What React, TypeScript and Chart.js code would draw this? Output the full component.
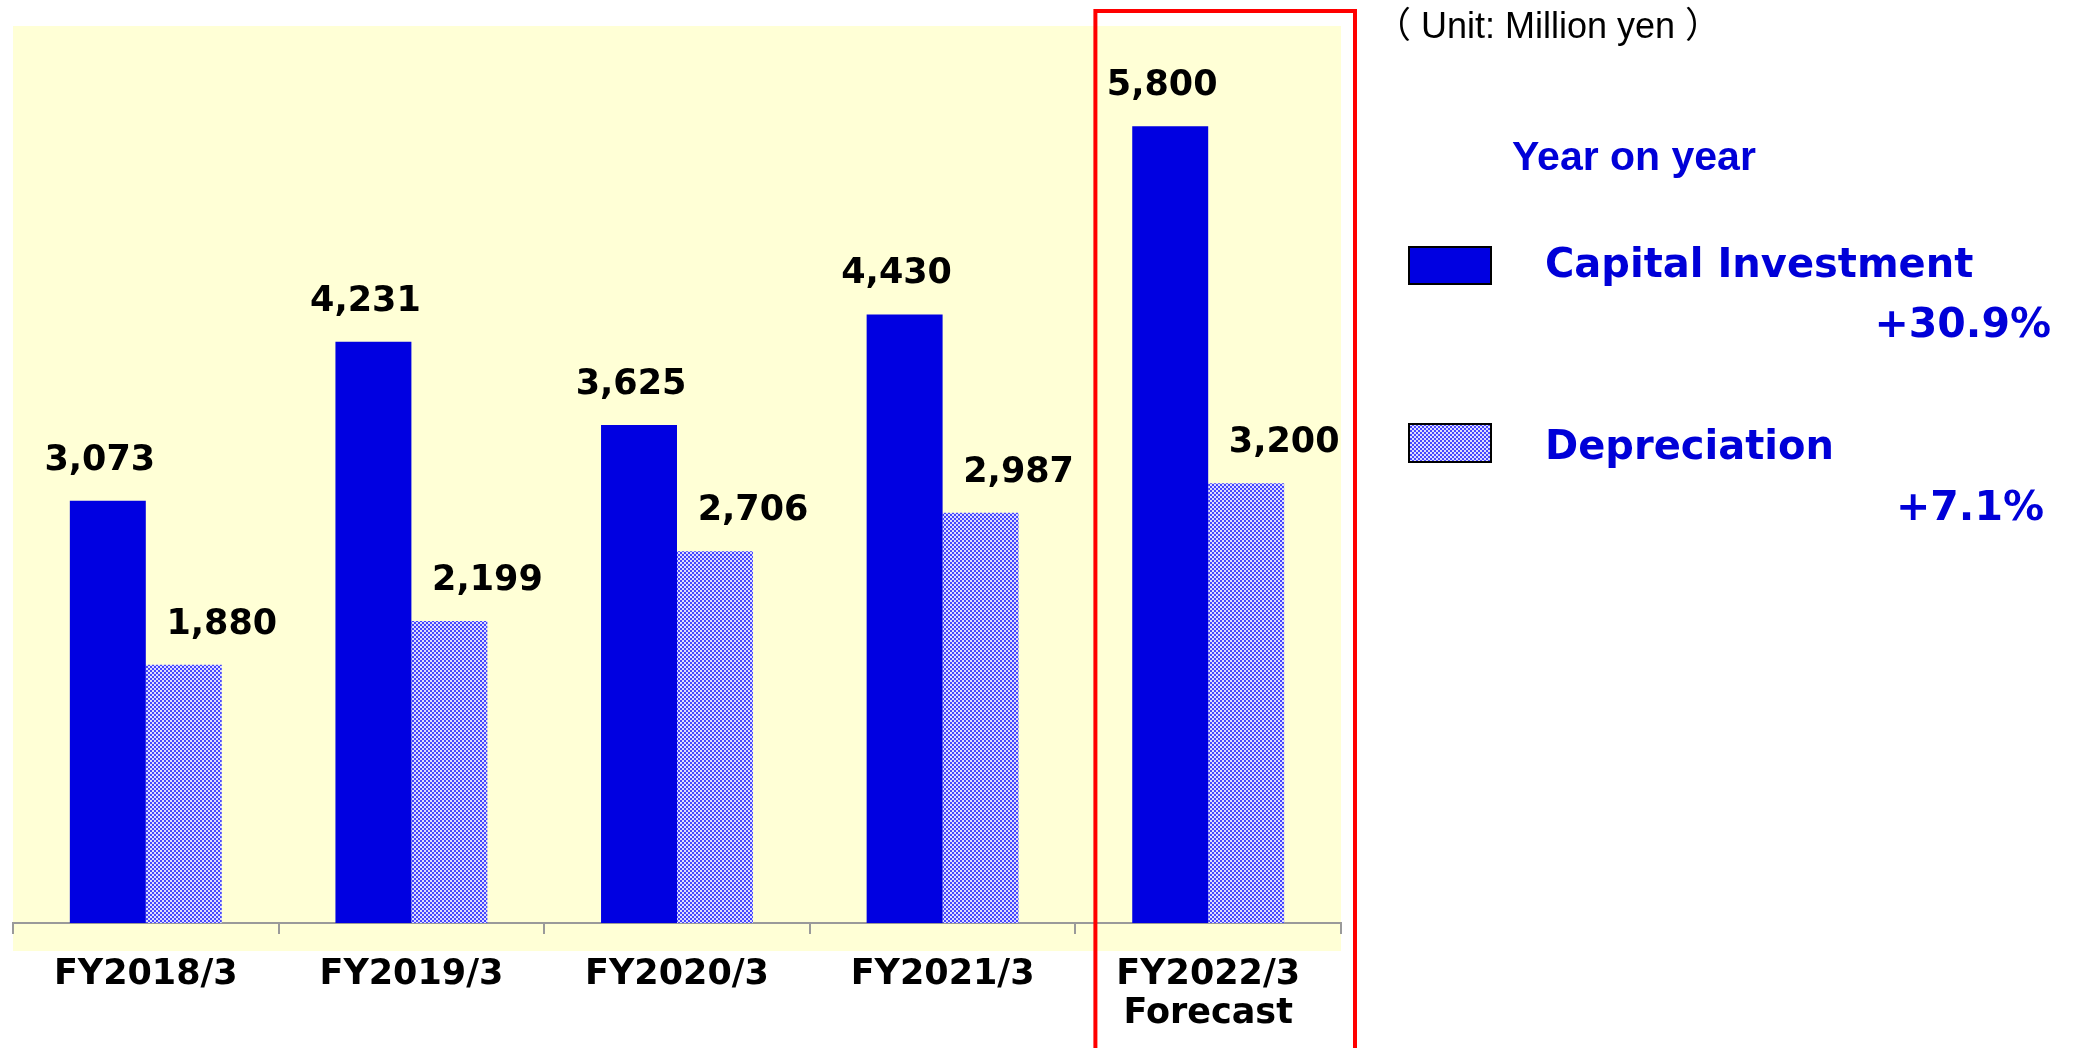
import React, { useEffect, useRef } from "react";
import { Chart, registerables } from "chart.js";

Chart.register(...registerables);

// Fiscal years shown on the category axis
const categories: (string | string[])[] = [
  "FY2018/3",
  "FY2019/3",
  "FY2020/3",
  "FY2021/3",
  ["FY2022/3", "Forecast"],
];

// Amounts in million yen
const capitalInvestment = [3073, 4231, 3625, 4430, 5800];
const depreciation = [1880, 2199, 2706, 2987, 3200];

const seriesNames = ["Capital Investment", "Depreciation"];
const yearOnYear = ["+30.9%", "+7.1%"];
const unitLabel = "（ Unit: Million yen ）";
const yoyTitle = "Year on year";

const SOLID_BLUE = "#0000E1";
const TEXT_BLUE = "#0000D8";
const PLOT_BG = "rgb(255,255,214)";
const AXIS_GREY = "#9a9a9a";

// Small blue/white checkerboard fill used for the depreciation series
function makeCheckerPattern(ctx: CanvasRenderingContext2D): CanvasPattern | string {
  const tile = document.createElement("canvas");
  tile.width = 4;
  tile.height = 4;
  const g = tile.getContext("2d");
  if (!g) return "#8888ff";
  g.fillStyle = "#dcdcff";
  g.fillRect(0, 0, 4, 4);
  g.fillStyle = "#4646ff";
  g.fillRect(0, 0, 2, 2);
  g.fillRect(2, 2, 2, 2);
  return ctx.createPattern(tile, "repeat") || "#8888ff";
}

export default function App() {
  const canvasRef = useRef<HTMLCanvasElement | null>(null);

  useEffect(() => {
    const canvas = canvasRef.current;
    if (!canvas) return;
    const ctx = canvas.getContext("2d");
    if (!ctx) return;
    const checker = makeCheckerPattern(ctx);

    // Light yellow plot backdrop, reaching a little below the axis
    const backdrop = {
      id: "backdrop",
      beforeDraw(chart: any) {
        const { ctx: c, chartArea } = chart;
        c.save();
        c.fillStyle = PLOT_BG;
        c.fillRect(
          chartArea.left,
          chartArea.top - 4,
          chartArea.right - chartArea.left,
          chartArea.bottom - chartArea.top + 32
        );
        c.restore();
      },
    };

    // Value labels above each bar
    const valueLabels = {
      id: "valueLabels",
      afterDatasetsDraw(chart: any) {
        const c = chart.ctx;
        const xShift = [-8, 38];
        c.save();
        c.font = "bold 35px 'DejaVu Sans'";
        c.fillStyle = "#000000";
        c.textAlign = "center";
        c.textBaseline = "alphabetic";
        chart.data.datasets.forEach((ds: any, di: number) => {
          const meta = chart.getDatasetMeta(di);
          meta.data.forEach((el: any, i: number) => {
            const v = ds.data[i] as number;
            c.fillText(v.toLocaleString("en-US"), el.x + xShift[di], el.y - 31);
          });
        });
        c.restore();
      },
    };

    // Frame around the forecast year, unit note and year-on-year legend
    const annotations = {
      id: "annotations",
      afterDraw(chart: any) {
        const c = chart.ctx;
        const xs = chart.scales.x;
        const step = xs.getPixelForValue(1) - xs.getPixelForValue(0);
        const cx = xs.getPixelForValue(categories.length - 1);
        const left = cx - step / 2 + 20;
        const right = cx + step / 2 + 14;
        c.save();
        c.strokeStyle = "#FF0000";
        c.lineWidth = 4;
        c.strokeRect(left, 11, right - left, 1100);

        c.fillStyle = "#000000";
        c.font = "36px 'Liberation Sans', 'Noto Sans CJK JP'";
        c.textAlign = "left";
        c.textBaseline = "alphabetic";
        c.fillText(unitLabel, 1375, 38);

        c.fillStyle = TEXT_BLUE;
        c.font = "bold 41px 'Liberation Sans'";
        c.fillText(yoyTitle, 1512, 170);

        const swatches = [
          { y: 246, h: 39, fill: SOLID_BLUE as any, textY: 277, pctY: 337, pctX: 2051 },
          { y: 423, h: 40, fill: checker as any, textY: 459, pctY: 520, pctX: 2044 },
        ];
        swatches.forEach((s, i) => {
          c.fillStyle = s.fill;
          c.fillRect(1408, s.y, 84, s.h);
          c.strokeStyle = "#000000";
          c.lineWidth = 2;
          c.strokeRect(1409, s.y + 1, 82, s.h - 2);

          c.fillStyle = TEXT_BLUE;
          c.font = "bold 40px 'DejaVu Sans'";
          c.textAlign = "left";
          c.fillText(seriesNames[i], 1545, s.textY);
          c.font = "bold 41px 'DejaVu Sans'";
          c.textAlign = "right";
          c.fillText(yearOnYear[i], s.pctX, s.pctY);
        });
        c.restore();
      },
    };

    const chart = new Chart(ctx, {
      type: "bar",
      data: {
        labels: categories as any,
        datasets: [
          {
            label: seriesNames[0],
            data: capitalInvestment,
            backgroundColor: SOLID_BLUE,
            borderWidth: 0,
            categoryPercentage: 0.572,
            barPercentage: 1,
          },
          {
            label: seriesNames[1],
            data: depreciation,
            backgroundColor: checker as any,
            borderWidth: 0,
            categoryPercentage: 0.572,
            barPercentage: 1,
          },
        ],
      },
      options: {
        responsive: false,
        animation: false,
        events: [],
        layout: { padding: { left: 13, right: 733, top: 30, bottom: 0 } },
        plugins: {
          legend: { display: false },
          tooltip: { enabled: false },
          title: { display: false },
        },
        scales: {
          x: {
            offset: true,
            grid: {
              display: true,
              offset: true,
              drawOnChartArea: false,
              drawTicks: true,
              tickLength: 11,
              color: AXIS_GREY,
              lineWidth: 2,
            },
            border: { display: true, color: AXIS_GREY, width: 2 },
            ticks: {
              color: "#000000",
              font: { family: "'DejaVu Sans'", size: 35, weight: "bold", lineHeight: 39 / 35 },
              padding: 21,
              maxRotation: 0,
              minRotation: 0,
              autoSkip: false,
            },
            afterFit: (scale: any) => {
              scale.height = 125;
            },
          },
          y: {
            display: false,
            min: 0,
            max: 6500,
          },
        },
      },
      plugins: [backdrop, valueLabels, annotations],
    });

    return () => {
      chart.destroy();
    };
  }, []);

  return (
    <div style={{ position: "fixed", left: 0, top: 0, width: 2074, height: 1048, background: "#ffffff" }}>
      <canvas ref={canvasRef} width={2074} height={1048} style={{ display: "block" }} />
    </div>
  );
}
